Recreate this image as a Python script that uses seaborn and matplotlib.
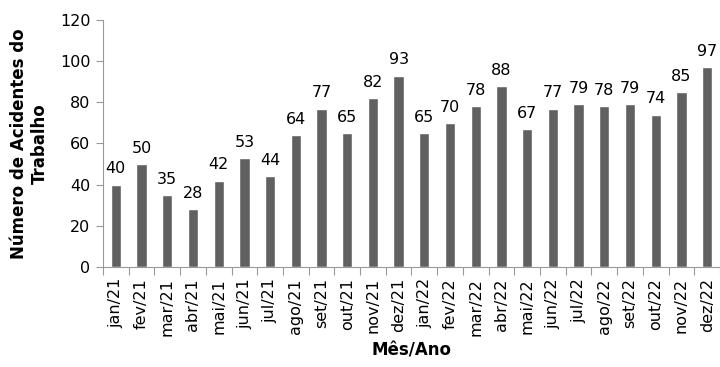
import matplotlib
matplotlib.use("Agg")
import matplotlib.pyplot as plt
import seaborn as sns
import pandas as pd
import numpy as np

# monthly work accidents, 2021-2022
meses = ["jan/21", "fev/21", "mar/21", "abr/21", "mai/21", "jun/21", "jul/21", "ago/21",
         "set/21", "out/21", "nov/21", "dez/21", "jan/22", "fev/22", "mar/22", "abr/22",
         "mai/22", "jun/22", "jul/22", "ago/22", "set/22", "out/22", "nov/22", "dez/22"]
acidentes = [40, 50, 35, 28, 42, 53, 44, 64, 77, 65, 82, 93,
             65, 70, 78, 88, 67, 77, 79, 78, 79, 74, 85, 97]

df = pd.DataFrame({"mes": meses, "n": acidentes})

sns.set_style("white")
plt.rcParams["font.family"] = ["DejaVu Sans"]

fig = plt.figure(figsize=(7.2, 3.67), dpi=100)
ax = fig.add_axes([0.143, 0.2725, 0.857, 0.673])

sns.barplot(data=df, x="mes", y="n", color="#606060", saturation=1, width=0.4, ax=ax)

for i, v in enumerate(acidentes):
    ax.text(i, v + 4, str(v), ha="center", va="bottom", fontsize=11.5, color="black")

ax.set_ylim(0, 120)
ax.set_xlim(-0.5, len(meses) - 0.5)
ax.set_yticks(range(0, 121, 20))
ax.tick_params(axis="y", labelsize=11.5, length=5, width=0.8, color="#999999",
               labelcolor="black", left=True, pad=4)
ax.tick_params(axis="x", which="major", labelsize=11.5, length=0, rotation=90,
               labelcolor="black", pad=8)
ax.set_xticks(np.arange(-0.5, len(meses), 1), minor=True)
ax.tick_params(axis="x", which="minor", length=6, width=0.8, color="#999999", bottom=True)

for s in ["top", "right"]:
    ax.spines[s].set_visible(False)
for s in ["left", "bottom"]:
    ax.spines[s].set_color("#999999")
    ax.spines[s].set_linewidth(0.8)

ax.set_xlabel("Mês/Ano", fontsize=12, fontweight="bold", color="black", labelpad=4)
ax.set_ylabel("Número de Acidentes do\nTrabalho", fontsize=12, fontweight="bold",
              color="black", labelpad=8)

fig.savefig("out.png", dpi=100)
